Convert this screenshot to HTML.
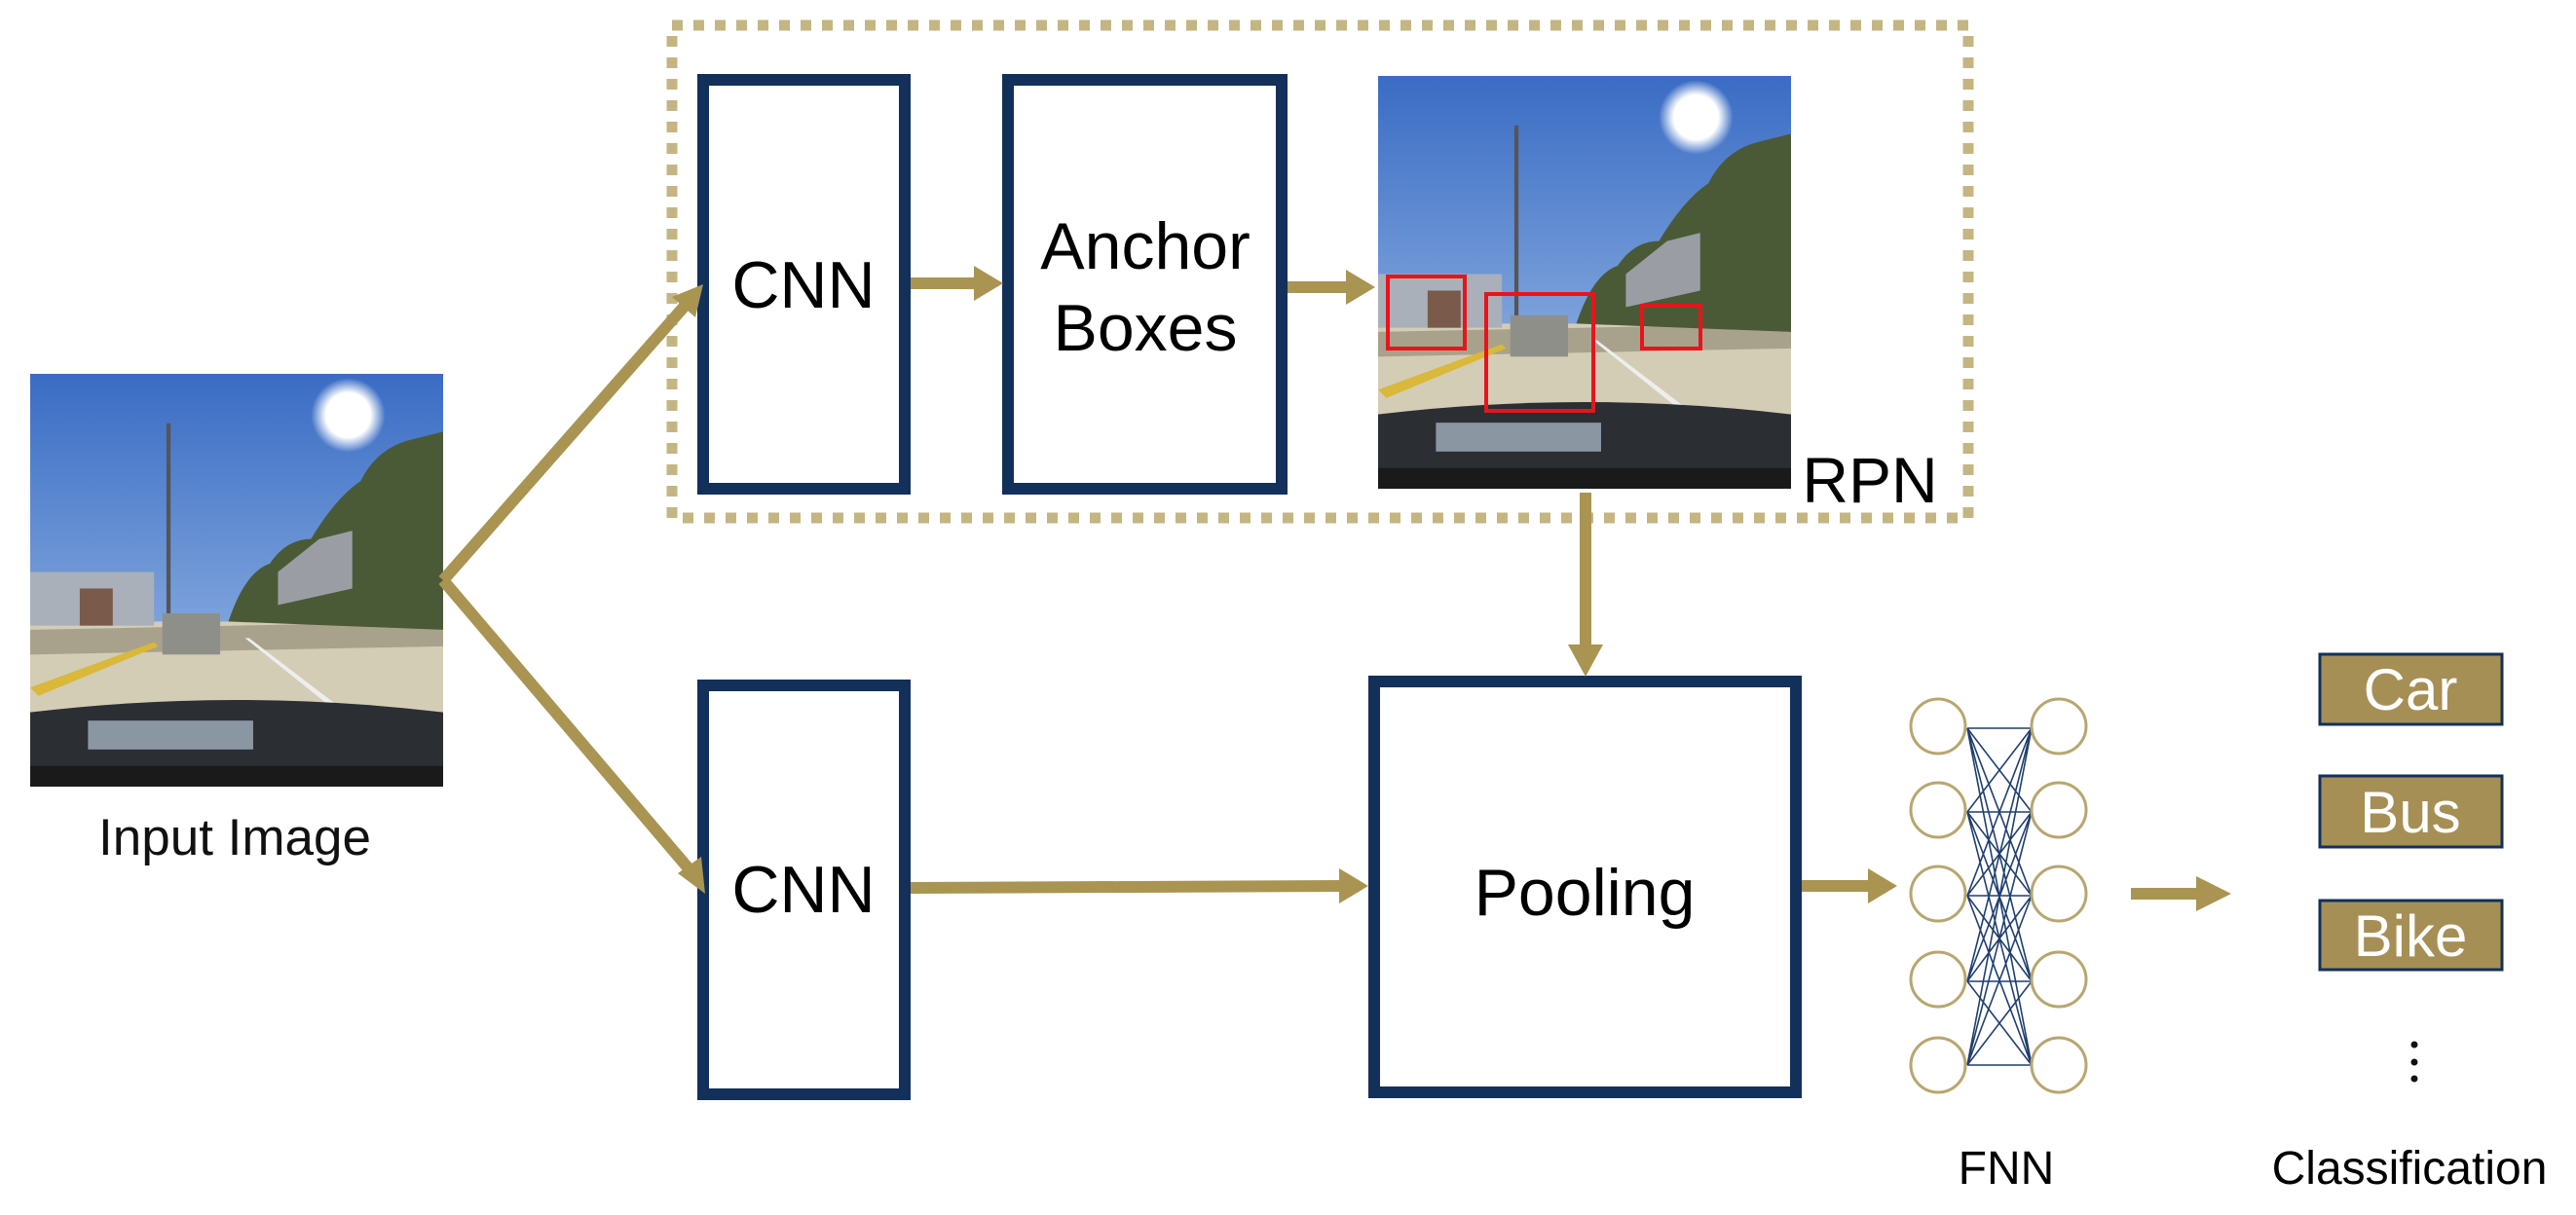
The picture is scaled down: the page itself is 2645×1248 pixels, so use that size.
<!DOCTYPE html>
<html><head><meta charset="utf-8"><style>
html,body{margin:0;padding:0;background:#fff}
svg{display:block}
text{font-family:"Liberation Sans",sans-serif}
</style></head><body>
<svg width="2645" height="1248" viewBox="0 0 2645 1248" xmlns="http://www.w3.org/2000/svg">
<defs>
<linearGradient id="sky" x1="0" y1="0" x2="0" y2="1">
<stop offset="0" stop-color="#3a6cc4"/><stop offset="1" stop-color="#a8c6ea"/></linearGradient>
<radialGradient id="sun"><stop offset="0" stop-color="#fff"/><stop offset="0.6" stop-color="#fff"/><stop offset="1" stop-color="#fff" stop-opacity="0"/></radialGradient>
<symbol id="scene" viewBox="0 0 100 100" preserveAspectRatio="none">
<rect width="100" height="100" fill="url(#sky)"/>
<rect x="0" y="60" width="100" height="24" fill="#d3cdb6"/>
<polygon points="0,62 100,60 100,66 0,68" fill="#a8a28c"/>
<rect x="0" y="48" width="30" height="13" fill="#a9b0ba"/>
<rect x="12" y="52" width="8" height="9" fill="#7a5a4a"/>
<path d="M48,60 Q52,48 58,46 Q62,40 68,40 Q74,30 80,26 Q84,18 92,16 L100,14 L100,62 Z" fill="#4a5a36"/>
<polygon points="60,48 70,40 78,38 78,52 60,56" fill="#9a9ea4"/>
<rect x="33" y="12" width="1" height="50" fill="#555"/>
<rect x="32" y="58" width="14" height="10" fill="#8f8f8a"/>
<circle cx="77" cy="10" r="9" fill="url(#sun)"/>
<polygon points="0,76 30,65 31,66 2,78" fill="#d9b83a"/>
<polygon points="52,64 53,64 74,80 72,80" fill="#eee"/>
<path d="M0,82 Q50,76 100,82 L100,100 L0,100 Z" fill="#2b2e33"/>
<rect x="14" y="84" width="40" height="7" fill="#8b96a3"/>
<rect x="0" y="95" width="100" height="5" fill="#1a1a1a"/>
</symbol>
</defs>

<rect x="690" y="26" width="1331" height="506" fill="none" stroke="#c4b683" stroke-width="11" stroke-dasharray="11 11"/>

<use href="#scene" x="31" y="384" width="424" height="424"/>
<text x="241" y="878" font-size="53" text-anchor="middle" fill="#111">Input Image</text>

<g fill="#fff" stroke="#12305a" stroke-width="12">
<rect x="722" y="82" width="207" height="420"/>
<rect x="1035" y="82" width="281" height="420"/>
<rect x="722" y="704" width="207" height="420"/>
<rect x="1411" y="700" width="433" height="422"/>
</g>
<g font-size="68" fill="#000" text-anchor="middle">
<text x="825" y="316">CNN</text>
<text x="825" y="937">CNN</text>
<text x="1176" y="276">Anchor</text>
<text x="1176" y="360">Boxes</text>
<text x="1627" y="940">Pooling</text>
</g>

<use href="#scene" x="1415" y="78" width="424" height="424"/>
<g fill="none" stroke="#e8141c" stroke-width="4">
<rect x="1425" y="284" width="79" height="74"/>
<rect x="1526" y="302" width="110" height="120"/>
<rect x="1686" y="314" width="60" height="44"/>
</g>
<text x="1920" y="516" font-size="66" text-anchor="middle" fill="#000">RPN</text>

<g stroke="#a99452" stroke-width="12" fill="none">
<line x1="455" y1="596" x2="705" y2="312"/>
<line x1="455" y1="596" x2="712" y2="898"/>
<line x1="935" y1="291" x2="1005" y2="291"/>
<line x1="1322" y1="295" x2="1385" y2="295"/>
<line x1="1628" y1="506" x2="1628" y2="665"/>
<line x1="935" y1="912" x2="1380" y2="910"/>
<line x1="1850" y1="910" x2="1920" y2="910"/>
<line x1="2188" y1="918" x2="2260" y2="918"/>
</g>
<g fill="#a99452">
<polygon points="722,292 690,305 714,326"/>
<polygon points="724,918 696,897 720,880"/>
<polygon points="1030,291 1000,273 1000,309"/>
<polygon points="1412,295 1382,277 1382,313"/>
<polygon points="1628,695 1610,662 1646,662"/>
<polygon points="1405,910 1375,892 1375,928"/>
<polygon points="1948,910 1918,892 1918,928"/>
<polygon points="2291,918 2255,900 2255,936"/>
</g>

<g stroke="#1f3f6e" stroke-width="1.6">
<path d="M2020,748 L2086,748 M2020,834 L2086,834 M2020,920 L2086,920 M2020,1008 L2086,1008 M2020,1094 L2086,1094
M2020,748 L2086,834 M2020,748 L2086,920 M2020,748 L2086,1008 M2020,748 L2086,1094
M2020,834 L2086,748 M2020,834 L2086,920 M2020,834 L2086,1008 M2020,834 L2086,1094
M2020,920 L2086,748 M2020,920 L2086,834 M2020,920 L2086,1008 M2020,920 L2086,1094
M2020,1008 L2086,748 M2020,1008 L2086,834 M2020,1008 L2086,920 M2020,1008 L2086,1094
M2020,1094 L2086,748 M2020,1094 L2086,834 M2020,1094 L2086,920 M2020,1094 L2086,1008"/>
</g>
<g fill="none" stroke="#b8a670" stroke-width="3">
<ellipse cx="1990" cy="746" rx="28" ry="28"/><ellipse cx="2114" cy="746" rx="28" ry="28"/>
<ellipse cx="1990" cy="832" rx="28" ry="28"/><ellipse cx="2114" cy="832" rx="28" ry="28"/>
<ellipse cx="1990" cy="918" rx="28" ry="28"/><ellipse cx="2114" cy="918" rx="28" ry="28"/>
<ellipse cx="1990" cy="1006" rx="28" ry="28"/><ellipse cx="2114" cy="1006" rx="28" ry="28"/>
<ellipse cx="1990" cy="1094" rx="28" ry="28"/><ellipse cx="2114" cy="1094" rx="28" ry="28"/>
</g>
<text x="2060" y="1216" font-size="48" text-anchor="middle" fill="#000">FNN</text>

<g fill="#a68f55" stroke="#12305a" stroke-width="3">
<rect x="2382" y="672" width="187" height="72"/>
<rect x="2382" y="797" width="187" height="73"/>
<rect x="2382" y="925" width="187" height="71"/>
</g>
<g font-size="60" fill="#fff" text-anchor="middle">
<text x="2475" y="729">Car</text>
<text x="2475" y="855">Bus</text>
<text x="2475" y="982">Bike</text>
</g>
<g fill="#111"><circle cx="2479" cy="1073" r="3.5"/><circle cx="2479" cy="1091" r="3.5"/><circle cx="2479" cy="1108" r="3.5"/></g>
<text x="2474" y="1216" font-size="48" text-anchor="middle" fill="#000">Classification</text>
</svg>
</body></html>
